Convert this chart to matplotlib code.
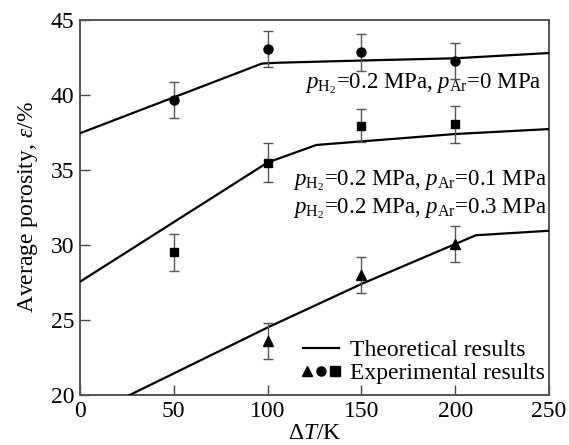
import numpy as np
import matplotlib
matplotlib.use("Agg")
import matplotlib.pyplot as plt
from matplotlib.lines import Line2D
from matplotlib.legend_handler import HandlerTuple

plt.rcParams['font.family'] = ['Liberation Serif', 'DejaVu Serif']
plt.rcParams['mathtext.fontset'] = 'custom'
plt.rcParams['mathtext.rm'] = 'Liberation Serif'
plt.rcParams['mathtext.it'] = 'Liberation Serif:italic'

# theoretical curves
x_ar0 = [0, 97, 105, 150, 200, 250]
y_ar0 = [37.45, 42.1, 42.15, 42.3, 42.45, 42.8]
x_ar01 = [0, 100, 126, 200, 250]
y_ar01 = [27.55, 35.5, 36.67, 37.4, 37.73]
x_ar03 = [20, 100, 150, 211, 250]
y_ar03 = [19.6, 24.5, 27.4, 30.65, 30.95]

# experimental points
dT = [50, 100, 150, 200]
exp_ar0 = [39.7, 43.05, 42.85, 42.25]
err_ar0 = [1.2, 1.2, 1.25, 1.2]
exp_ar01 = [29.5, 35.5, 37.95, 38.05]
err_ar01 = [1.25, 1.3, 1.1, 1.25]
dT_ar03 = [100, 150, 200]
exp_ar03 = [23.6, 28.0, 30.05]
err_ar03 = [1.2, 1.2, 1.2]

fig = plt.figure(figsize=(5.69, 4.45), dpi=100)
ax = fig.add_axes([0.1406, 0.1124, 0.8243, 0.8426])

for xs, ys in [(x_ar0, y_ar0), (x_ar01, y_ar01), (x_ar03, y_ar03)]:
    ax.plot(xs, ys, color='black', lw=1.6, zorder=3)

ekw = dict(ecolor='#555555', elinewidth=1.0, capsize=3.5, capthick=1.0,
           linestyle='none', color='black', zorder=4)
ax.errorbar(dT, exp_ar0, yerr=err_ar0, marker='o', ms=6.5, **ekw)
ax.errorbar(dT, exp_ar01, yerr=err_ar01, marker='s', ms=6, **ekw)
ax.errorbar(dT_ar03, exp_ar03, yerr=err_ar03, marker='^', ms=7, **ekw)

fs = 16.5
ax.text(246, 40.75, r'$p_{\mathrm{H_2}}$=0.2 MPa, $p_{\mathrm{Ar}}$=0 MPa',
        ha='right', va='center', fontsize=fs)
ax.text(249, 34.3, r'$p_{\mathrm{H_2}}$=0.2 MPa, $p_{\mathrm{Ar}}$=0.1 MPa',
        ha='right', va='center', fontsize=fs)
ax.text(249, 32.4, r'$p_{\mathrm{H_2}}$=0.2 MPa, $p_{\mathrm{Ar}}$=0.3 MPa',
        ha='right', va='center', fontsize=fs)

h_line = Line2D([], [], color='black', lw=1.6)
h_marks = tuple(Line2D([], [], color='black', marker=m, ms=6.5, linestyle='none')
                for m in ['^', 'o', 's'])
ax.legend([h_line, h_marks], ['Theoretical results', 'Experimental results'],
          handler_map={tuple: HandlerTuple(ndivide=None, pad=0.25)},
          loc='lower right', bbox_to_anchor=(1.02, -0.005), frameon=False,
          fontsize=17, handlelength=1.5, handletextpad=0.5, labelspacing=0.05,
          borderaxespad=0.35, borderpad=0.2)

ax.set_xlim(0, 250)
ax.set_ylim(20, 45)
ax.set_xticks([0, 50, 100, 150, 200, 250])
ax.set_yticks([20, 25, 30, 35, 40, 45])
ax.tick_params(direction='in', length=7, width=1, labelsize=17, color='#444444',
               pad=4)
for s in ax.spines.values():
    s.set_color('#555555')
    s.set_linewidth(1.4)

ax.set_xlabel(r'$\Delta$$\it{T}$/K', fontsize=17, labelpad=1)
ax.set_ylabel(r'Average porosity, $\it{\varepsilon}$/%', fontsize=17, labelpad=8)

fig.savefig('out.png', dpi=100)
